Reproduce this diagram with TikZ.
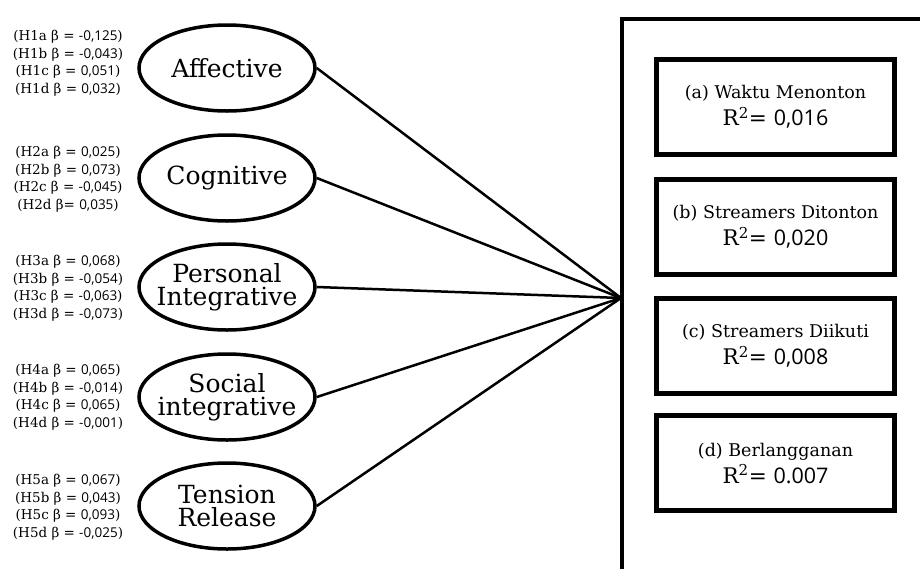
\documentclass[tikz,border=0pt]{standalone}
\usepackage{fontspec}
\setmainfont{DejaVu Serif}
\newfontfamily\numfont{Open Sans}
\newcommand{\nm}[1]{{\numfont #1}}
\newcommand{\zline}[1]{\makebox[0pt]{#1}}
\tikzset{
  motive/.style={draw,ellipse,line width=3.5pt,minimum width=176pt,minimum height=86pt,
    inner sep=0pt,align=center,font=\fontsize{25}{23}\selectfont},
  hyplabel/.style={align=center,font=\fontsize{13.5}{17.5}\selectfont},
  outbox/.style={draw,rectangle,line width=5pt,minimum width=238pt,minimum height=95pt,
    align=center,font=\fontsize{17.5}{27}\selectfont},
  link/.style={line width=2.5pt}
}
\newcommand{\rsq}[1]{{\fontsize{21.5}{27}\selectfont R\textsuperscript{2}= \nm{#1}}}
\usetikzlibrary{shapes.geometric}
\begin{document}
\begin{tikzpicture}[x=1pt,y=-1pt]
\clip (0,0) rectangle (920,568);
\fill[white] (0,0) rectangle (920,568);

% predictors
\node[motive] (aff) at (227,68) {\zline{Affective}};
\node[motive] (cog) at (227,178) {\zline{Cognitive}};
\node[motive] (pers) at (227,287) {\zline{Personal}\\\zline{Integrative}};
\node[motive] (soc) at (227,397) {\zline{Social}\\\zline{integrative}};
\node[motive] (tens) at (227,506) {\zline{Tension}\\\zline{Release}};

\node[hyplabel] (haff) at (68,63) {(H1a β = \nm{-0,125})\\(H1b β = \nm{-0,043})\\(H1c β = \nm{0,051})\\(H1d β = \nm{0,032})};
\node[hyplabel] (hcog) at (68,179) {(H2a β = \nm{0,025})\\(H2b β = \nm{0,073})\\(H2c β = \nm{-0,045})\\(H2d β= \nm{0,035})};
\node[hyplabel] (hpers) at (68,288) {(H3a β = \nm{0,068})\\(H3b β = \nm{-0,054})\\(H3c β = \nm{-0,063})\\(H3d β = \nm{-0,073})};
\node[hyplabel] (hsoc) at (68,397) {(H4a β = \nm{0,065})\\(H4b β = \nm{-0,014})\\(H4c β = \nm{0,065})\\(H4d β = \nm{-0,001})};
\node[hyplabel] (htens) at (68,507) {(H5a β = \nm{0,067})\\(H5b β = \nm{0,043})\\(H5c β = \nm{0,093})\\(H5d β = \nm{-0,025})};

% outcome frame
\coordinate (hub) at (621,298);
\draw[line width=4pt] (622,600) |- (940,19);
\foreach \m in {aff,cog,pers,soc,tens}
  \draw[link] (\m.east) -- (hub);

% outcomes
\node[outbox] (wak) at (775.5,107) {(a) Waktu Menonton\\\rsq{0,016}};
\node[outbox] (dit) at (775.5,227) {(b) Streamers Ditonton\\\rsq{0,020}};
\node[outbox] (dii) at (775.5,346) {(c) Streamers Diikuti\\\rsq{0,008}};
\node[outbox] (ber) at (775.5,463) {(d) Berlangganan\\\rsq{0.007}};
\end{tikzpicture}
\end{document}
